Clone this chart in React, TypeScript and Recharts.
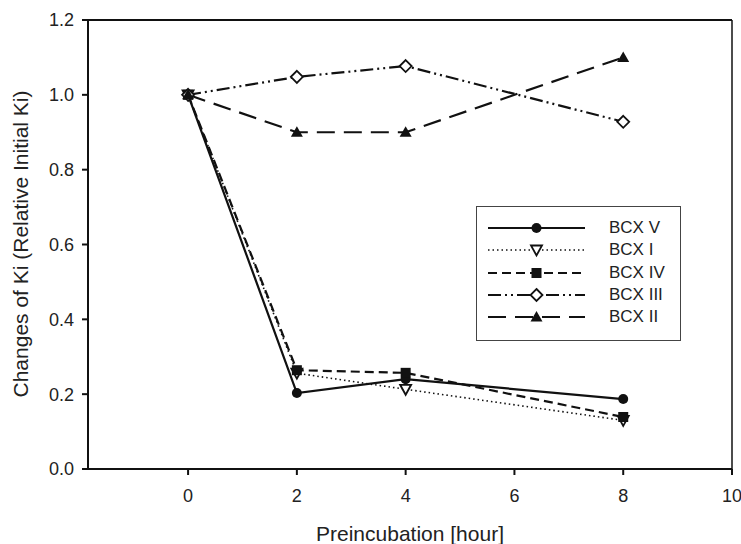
import React from "react";
import { LineChart, Line, XAxis, YAxis, ReferenceLine } from "recharts";

// Preincubation time (hours)
const hours = [0, 2, 4, 8];
// relative Ki for each enzyme
const bcxV = [1.0, 0.203, 0.24, 0.187];
const bcxI = [1.0, 0.256, 0.213, 0.13];
const bcxIV = [1.0, 0.264, 0.257, 0.139];
const bcxIII = [1.0, 1.048, 1.077, 0.928];
const bcxII = [1.0, 0.9, 0.9, 1.1];

const xTicks = [0, 2, 4, 6, 8, 10];
const yTicks = [0, 0.2, 0.4, 0.6, 0.8, 1.0, 1.2];

const INK = "#111";
const FONT = "'Liberation Sans', Arial, sans-serif";

const data = hours.map((h, i) => ({
  h, v: bcxV[i], i1: bcxI[i], iv: bcxIV[i], iii: bcxIII[i], ii: bcxII[i],
}));

type Shape = "circle" | "triDown" | "square" | "diamond" | "triUp";

function marker(shape: Shape, cx: number, cy: number, key?: any) {
  switch (shape) {
    case "circle":
      return <circle key={key} cx={cx} cy={cy} r={5} fill={INK} />;
    case "triDown":
      return <polygon key={key} points={`${cx - 5.5},${cy - 4.5} ${cx + 5.5},${cy - 4.5} ${cx},${cy + 5.5}`} fill="#fff" stroke={INK} strokeWidth={1.8} />;
    case "square":
      return <rect key={key} x={cx - 5} y={cy - 5} width={10} height={10} fill={INK} />;
    case "diamond":
      return <polygon key={key} points={`${cx},${cy - 6} ${cx + 6},${cy} ${cx},${cy + 6} ${cx - 6},${cy}`} fill="#fff" stroke={INK} strokeWidth={1.8} />;
    default:
      return <polygon key={key} points={`${cx},${cy - 6} ${cx + 6},${cy + 4.5} ${cx - 6},${cy + 4.5}`} fill={INK} />;
  }
}

const series = [
  { key: "v", name: "BCX V", shape: "circle" as Shape, dash: undefined, width: 2.2 },
  { key: "i1", name: "BCX I", shape: "triDown" as Shape, dash: "1.5 3", width: 1.6 },
  { key: "iv", name: "BCX IV", shape: "square" as Shape, dash: "9 5", width: 2.2 },
  { key: "iii", name: "BCX III", shape: "diamond" as Shape, dash: "13 4 2 4 2 4", width: 2.2 },
  { key: "ii", name: "BCX II", shape: "triUp" as Shape, dash: "18 9", width: 2.2 },
];

function LegendBox() {
  return (
    <div style={{
      position: "absolute", left: 476, top: 206,
      border: "1.5px solid #444", background: "#fff", width: 205, height: 135,
      boxSizing: "border-box", paddingTop: 10, fontFamily: FONT,
    }}>
      {series.map(s => (
        <div key={s.key} style={{ display: "flex", alignItems: "center", height: 22.25 }}>
          <svg width={132} height={22} style={{ display: "block", flex: "none" }}>
            <line x1={11} x2={108} y1={11} y2={11} stroke={INK} strokeWidth={s.width} strokeDasharray={s.dash} />
            {marker(s.shape, 59.5, 11)}
          </svg>
          <span style={{ fontSize: 17, color: "#222", whiteSpace: "nowrap" }}>{s.name}</span>
        </div>
      ))}
    </div>
  );
}

function YLabel() {
  const cx = 28, cy = 244;
  return (
    <text x={cx} y={cy} transform={`rotate(-90 ${cx} ${cy})`} textAnchor="middle"
      fontFamily={FONT} fontSize={21} fill="#222">
      Changes of Ki (Relative Initial Ki)
    </text>
  );
}

export default function App() {
  return (
    <div style={{ position: "absolute", left: 0, top: 0, width: 741, height: 544, background: "#fff" }}>
      <LineChart width={741} height={544} data={data} margin={{ top: 20, right: 9, bottom: 0, left: 0 }}>
        <XAxis dataKey="h" type="number" domain={[-1.84, 10]} ticks={xTicks} allowDataOverflow
          stroke={INK} strokeWidth={2} tickSize={6} tickMargin={14} height={75}
          tick={{ fill: "#222", fontSize: 18, fontFamily: FONT }}
          label={{ value: "Preincubation [hour]", position: "insideBottom", offset: 3, fill: "#222", fontSize: 21, fontFamily: FONT }} />
        <YAxis type="number" domain={[0, 1.2]} ticks={yTicks} width={88}
          stroke={INK} strokeWidth={2} tickSize={6} tickMargin={8}
          tickFormatter={(v: number) => v.toFixed(1)}
          tick={{ fill: "#222", fontSize: 18, fontFamily: FONT }}
          label={<YLabel />} />
        <ReferenceLine y={1.2} stroke={INK} strokeWidth={2} />
        <ReferenceLine x={10} stroke={INK} strokeWidth={1.5} />
        {series.map(s => (
          <Line key={s.key} dataKey={s.key} name={s.name} type="linear" stroke={INK}
            strokeWidth={s.width} strokeDasharray={s.dash} isAnimationActive={false}
            dot={(p: any) => marker(s.shape, p.cx, p.cy, `${s.key}-${p.index}`)}
            activeDot={false} />
        ))}
      </LineChart>
      <LegendBox />
    </div>
  );
}
